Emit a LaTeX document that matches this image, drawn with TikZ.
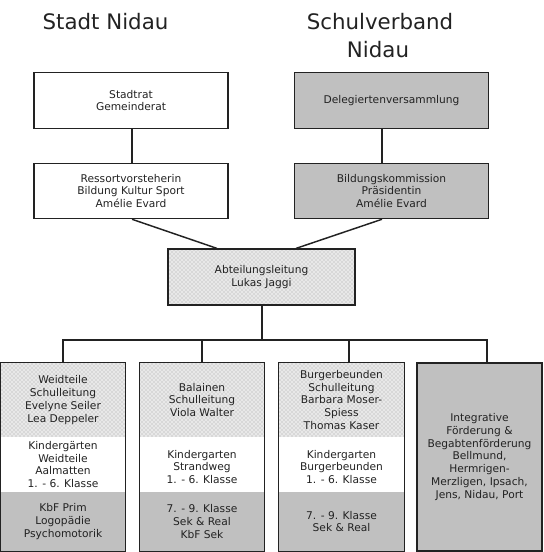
\documentclass[tikz,border=0pt]{standalone}
\usepackage{fontspec}
\setmainfont{DejaVu Sans}
\usetikzlibrary{patterns,calc,fit}
\definecolor{boxgray}{HTML}{C0C0C0}
\definecolor{ink}{HTML}{222222}
\begin{document}
\begin{tikzpicture}[x=0.75pt,y=-0.75pt,
  txt/.style={font=\fontsize{8}{9.6}\selectfont, text=ink, align=center, inner sep=0pt},
  topbox/.style={txt, draw=ink, line width=0.9pt, minimum width=145.5pt, minimum height=41.5pt},
  grayfill/.style={fill=boxgray},
  stipple/.style={preaction={fill=gray!18}, pattern=crosshatch dots, pattern color=gray!70},
  sec/.style={txt, minimum width=93.75pt},
  frame/.style={draw=ink, line width=0.9pt, inner sep=0pt},
  conn/.style={draw=ink, line width=1.1pt},
  title/.style={font=\fontsize{16}{21}\selectfont, text=ink, inner sep=0pt, anchor=base}]
\useasboundingbox (0,0) rectangle (543,552);

% titles
\node[title] (t1) at (105.5,30) {Stadt Nidau};
\node[title] (t2) at (380,30) {Schulverband};
\node[title] (t3) at (378,58) {Nidau};

% top row
\node[topbox] (stadt) at (131,100.5) {Stadtrat\\Gemeinderat};
\node[topbox, grayfill] (dele) at (391.5,100.5) {Delegiertenversammlung};
% second row
\node[topbox] (ress) at (131,191) {Ressortvorsteherin\\Bildung Kultur Sport\\Amélie Evard};
\node[topbox, grayfill] (bild) at (391.5,191) {Bildungskommission\\Präsidentin\\Amélie Evard};
% Abteilungsleitung
\node[txt, draw=ink, line width=0.9pt, minimum width=140.25pt, minimum height=42pt, stipple] (abt) at (261.5,277) {Abteilungsleitung\\Lukas Jaggi};

% columns
\node[sec, stipple, minimum height=55.5pt] (c1a) at (63,400) {Weidteile\\Schulleitung\\Evelyne Seiler\\Lea Deppeler};
\node[sec, fill=white, minimum height=41.25pt] (c1b) at (63,464.5) {Kindergärten\\Weidteile\\Aalmatten\\1. - 6. Klasse};
\node[sec, grayfill, minimum height=44.25pt] (c1c) at (63,521.5) {KbF Prim\\Logopädie\\Psychomotorik};
\node[frame, fit=(c1a)(c1c)] (c1) {};

\node[sec, stipple, minimum height=55.5pt] (c2a) at (202,400) {Balainen\\Schulleitung\\Viola Walter};
\node[sec, fill=white, minimum height=41.25pt] (c2b) at (202,464.5) {\\Kindergarten\\Strandweg\\1. - 6. Klasse};
\node[sec, grayfill, minimum height=44.25pt] (c2c) at (202,521.5) {7. - 9. Klasse\\Sek \& Real\\KbF Sek};
\node[frame, fit=(c2a)(c2c)] (c2) {};

\node[sec, stipple, minimum height=55.5pt] (c3a) at (341.5,400) {Burgerbeunden\\Schulleitung\\Barbara Moser-\\Spiess\\Thomas Kaser};
\node[sec, fill=white, minimum height=41.25pt] (c3b) at (341.5,464.5) {\\Kindergarten\\Burgerbeunden\\1. - 6. Klasse};
\node[sec, grayfill, minimum height=44.25pt] (c3c) at (341.5,521.5) {7. - 9. Klasse\\Sek \& Real};
\node[frame, fit=(c3a)(c3c)] (c3) {};

\node[sec, grayfill, draw=ink, line width=0.9pt, minimum height=141pt] (c4) at (479.5,457) {Integrative\\Förderung \&\\Begabtenförderung\\Bellmund,\\Hermrigen-\\Merzligen, Ipsach,\\Jens, Nidau, Port};

% connectors
\draw[conn] ($(stadt.south)+(1,0)$) -- ($(ress.north)+(1,0)$);
\draw[conn] ($(dele.south)+(-9.5,0)$) -- ($(bild.north)+(-9.5,0)$);
\draw[conn] ($(ress.south)+(1,0)$) -- ($(abt.north)+(-44.5,0)$);
\draw[conn] ($(bild.south)+(-9.5,0)$) -- ($(abt.north)+(34.5,0)$);

\coordinate (bus) at (262,340);
\coordinate (bus1) at (63,340);
\coordinate (bus2) at (202,340);
\coordinate (bus3) at (349,340);
\coordinate (bus4) at (487,340);
\draw[conn] ($(abt.south)+(0.5,0)$) -- (bus);
\draw[conn] (bus1 |- c1.north) -- (bus1) -- (bus4) -- (bus4 |- c4.north);
\draw[conn] (bus2) -- (bus2 |- c2.north);
\draw[conn] (bus3) -- (bus3 |- c3.north);
\end{tikzpicture}
\end{document}
